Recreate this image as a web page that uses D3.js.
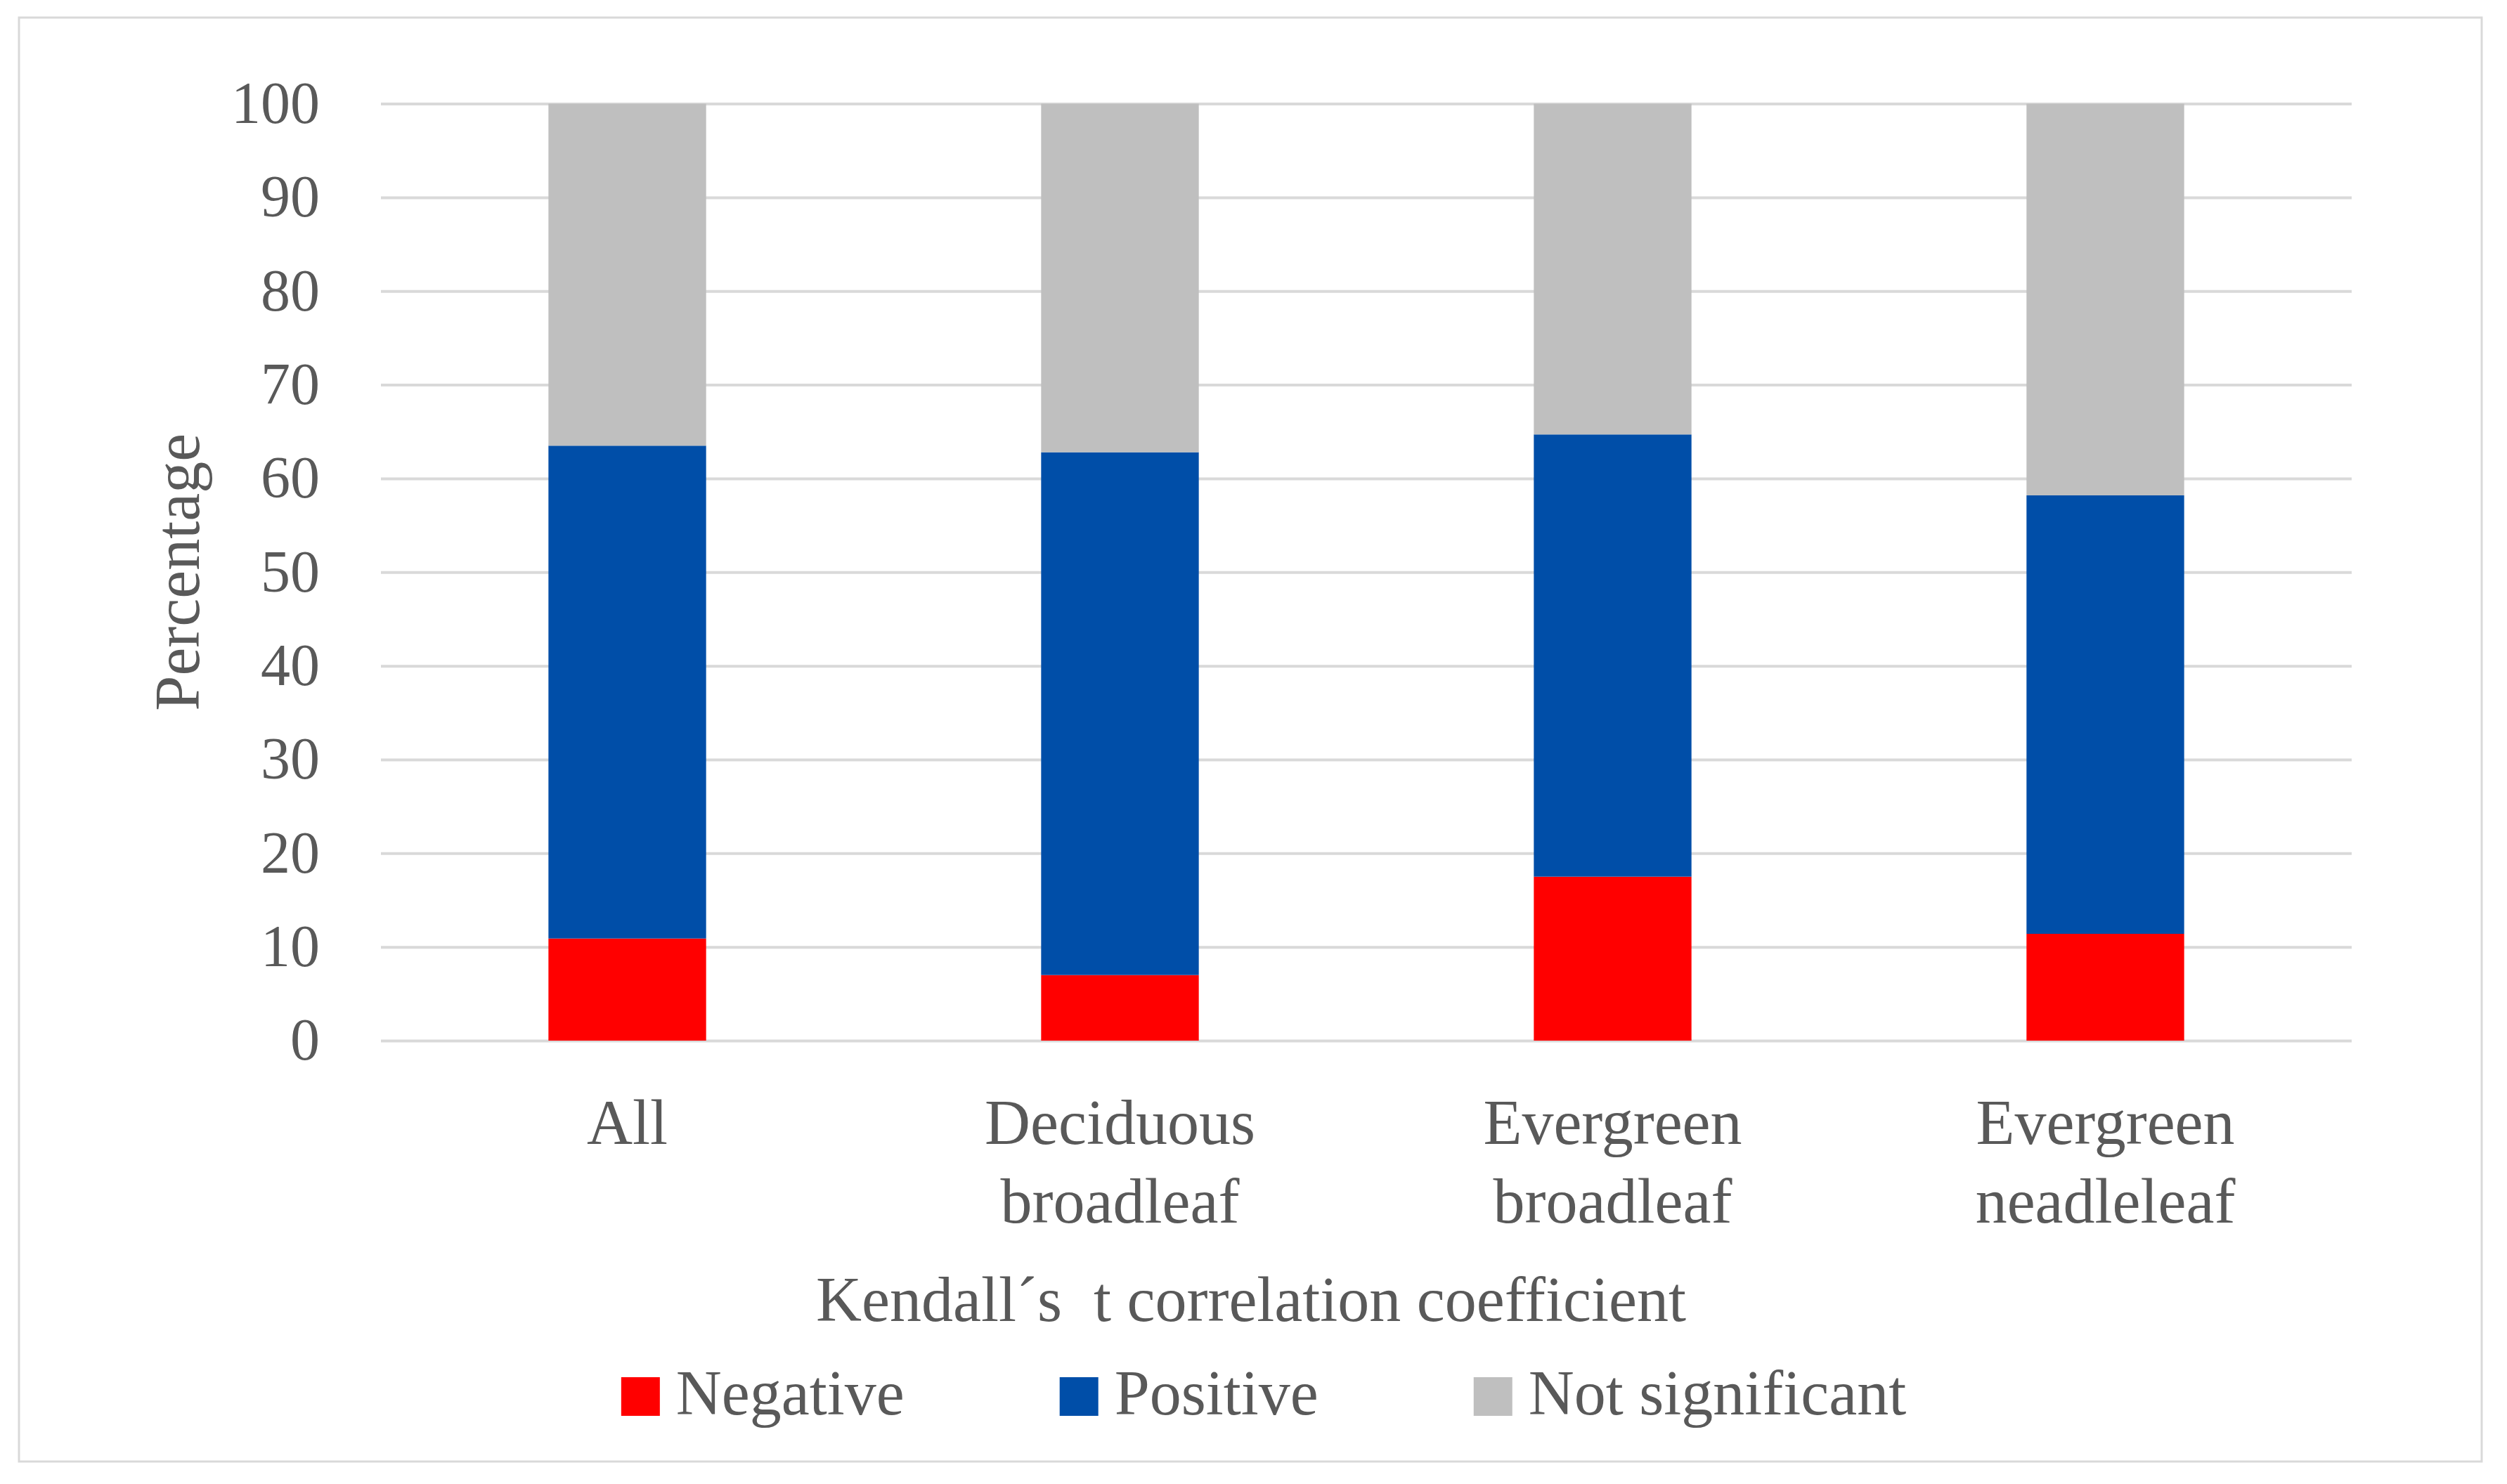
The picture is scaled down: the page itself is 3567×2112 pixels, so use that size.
<!DOCTYPE html>
<html>
<head>
<meta charset="utf-8">
<script src="https://cdn.jsdelivr.net/npm/d3@7"></script>
<style>
  body { margin: 0; background: #fff; }
  svg text { font-family: "Liberation Serif", "DejaVu Serif", serif; fill: #595959; }
</style>
</head>
<body>
<svg id="chart" width="3567" height="2112"></svg>
<script>
// stacked percentages per vegetation class
const categories = ["All", "Deciduous broadleaf", "Evergreen broadleaf", "Evergreen neadleleaf"];
const negative = [10.9, 7.0, 17.5, 11.4];
const positive = [52.6, 55.8, 47.2, 46.8];
const notSignificant = [36.5, 37.2, 35.3, 41.8];
const seriesNames = ["Negative", "Positive", "Not significant"];
const yTicks = [0, 10, 20, 30, 40, 50, 60, 70, 80, 90, 100];

const WIDTH = 3567;
const HEIGHT = 2112;
const TEXT_SIZE = 90;
const TICK_SIZE = 84;
const colors = { "Negative": "#ff0000", "Positive": "#004ea8", "Not significant": "#bfbfbf" };
const grid_color = "#d9d9d9";

const plot = { left: 542, right: 3346, top: 147.6, bottom: 1481 };

const rows = categories.map((c, i) => ({
  category: c,
  "Negative": negative[i],
  "Positive": positive[i],
  "Not significant": notSignificant[i]
}));

const svg = d3.select("#chart");

// outer chart frame
svg.append("rect")
  .attr("x", 27).attr("y", 25)
  .attr("width", 3531 - 27).attr("height", 2080 - 25)
  .style("fill", "#fff")
  .style("stroke", grid_color)
  .style("stroke-width", 3);

const x = d3.scaleBand()
  .domain(categories)
  .range([plot.left, plot.right])
  .paddingInner(0.68)
  .paddingOuter(0.34);

const y = d3.scaleLinear()
  .domain([0, 100])
  .range([plot.bottom, plot.top]);

// gridlines
const grid = svg.append("g")
  .attr("transform", "translate(" + plot.left + ",0)")
  .call(d3.axisLeft(y).tickValues(yTicks).tickSize(-(plot.right - plot.left)).tickFormat(""));
grid.select(".domain").remove();
grid.selectAll("line").style("stroke", grid_color).style("stroke-width", 4);

// y tick labels
const yAxis = svg.append("g")
  .attr("transform", "translate(" + plot.left + ",0)")
  .call(d3.axisLeft(y).tickValues(yTicks).tickSize(0).tickPadding(87));
yAxis.select(".domain").remove();
yAxis.selectAll("text")
  .style("font-size", TICK_SIZE + "px")
  .style("font-family", "Liberation Serif, DejaVu Serif, serif")
  .style("fill", "#595959");

// stacked bars
const stacked = d3.stack().keys(seriesNames)(rows);
svg.append("g")
  .selectAll("g")
  .data(stacked)
  .join("g")
  .style("fill", d => colors[d.key])
  .selectAll("rect")
  .data(d => d)
  .join("rect")
  .attr("x", d => x(d.data.category))
  .attr("width", x.bandwidth())
  .attr("y", d => y(d[1]))
  .attr("height", d => y(d[0]) - y(d[1]));

// category labels, wrapped on spaces
const xLabels = svg.append("g");
categories.forEach(c => {
  const t = xLabels.append("text")
    .attr("text-anchor", "middle")
    .style("font-size", TEXT_SIZE + "px");
  c.split(" ").forEach((word, i) => {
    t.append("tspan")
      .attr("x", x(c) + x.bandwidth() / 2)
      .attr("y", 1628 + i * 112)
      .text(word);
  });
});

// axis titles
svg.append("text")
  .attr("transform", "translate(283," + (plot.top + plot.bottom) / 2 + ") rotate(-90)")
  .attr("text-anchor", "middle")
  .style("font-size", TEXT_SIZE + "px")
  .text("Percentage");

svg.append("text")
  .attr("x", 1780).attr("y", 1880)
  .attr("text-anchor", "middle")
  .style("font-size", TEXT_SIZE + "px")
  .style("white-space", "pre")
  .text("Kendall\u00b4s  t correlation coefficient");

// legend, laid out from measured text widths
const legend = svg.append("g");
const items = seriesNames.map(name => {
  const g = legend.append("g");
  g.append("rect")
    .attr("y", 1960)
    .attr("width", 55).attr("height", 55)
    .style("fill", colors[name]);
  const label = g.append("text")
    .attr("x", 78).attr("y", 2013)
    .style("font-size", TEXT_SIZE + "px")
    .text(name);
  return { g: g, w: 78 + label.node().getComputedTextLength() };
});
const gap = 221;
const total = d3.sum(items, d => d.w) + gap * (items.length - 1);
let cursor = 1798 - total / 2;
items.forEach(it => {
  it.g.attr("transform", "translate(" + cursor + ",0)");
  cursor += it.w + gap;
});
</script>
</body>
</html>
